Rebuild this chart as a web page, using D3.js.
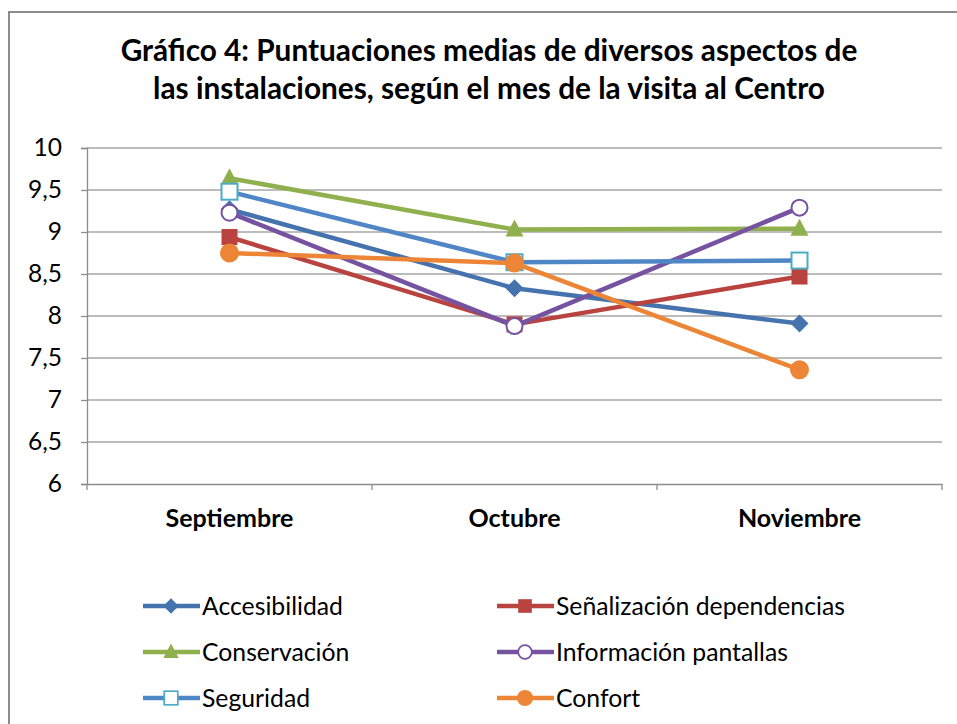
<!DOCTYPE html>
<html>
<head>
<meta charset="utf-8">
<script src="https://cdn.jsdelivr.net/npm/d3@7"></script>
<style>
  body { margin: 0; background: #fff; }
  svg { display: block; font-family: Lato, "Open Sans", sans-serif; }
</style>
</head>
<body>
<script>
  const months = ['Septiembre', 'Octubre', 'Noviembre'];
  const yTicks = [6, 6.5, 7, 7.5, 8, 8.5, 9, 9.5, 10];

  const accesibilidad = [9.27, 8.33, 7.91];
  const senalizacion = [8.94, 7.9, 8.47];
  const conservacion = [9.64, 9.03, 9.04];
  const informacion = [9.23, 7.88, 9.29];
  const seguridad = [9.48, 8.64, 8.66];
  const confort = [8.75, 8.63, 7.36];

  const series = [
    { name: 'Accesibilidad', values: accesibilidad, color: '#4473ad', marker: 'diamond' },
    { name: 'Señalización dependencias', values: senalizacion, color: '#b8433f', marker: 'square' },
    { name: 'Conservación', values: conservacion, color: '#8fb04d', marker: 'triangle' },
    { name: 'Información pantallas', values: informacion, color: '#7653a0', marker: 'circleOpen' },
    { name: 'Seguridad', values: seguridad, color: '#4f86c6', marker: 'squareOpen' },
    { name: 'Confort', values: confort, color: '#ec8535', marker: 'circle' }
  ];

  const width = 957;
  const height = 724;
  const margin = { top: 148, right: 15, bottom: 240, left: 87 };

  const svg = d3.select('body')
    .append('svg')
    .attr('width', width)
    .attr('height', height);

  // size a font so a sample string gets the width seen in the reference
  const fitSize = (sample, weight, target) => {
    const t = svg.append('text').attr('font-size', 20).attr('font-weight', weight).text(sample);
    const w = t.node().getComputedTextLength();
    t.remove();
    return 20 * target / w;
  };
  const yTickSize = fitSize('9,5', 'normal', 34);
  const xTickSize = fitSize('Septiembre', 'bold', 128);
  const legendSize = fitSize('Accesibilidad', 'normal', 141);

  // chart frame (right and bottom edges fall outside the picture)
  svg.append('path')
    .attr('d', `M9,${height + 2}V12H${width + 2}`)
    .attr('fill', 'none')
    .attr('stroke', '#8c8c8c')
    .attr('stroke-width', 2);

  const title = svg.append('text')
    .attr('text-anchor', 'middle')
    .attr('font-weight', 'bold')
    .attr('fill', '#000');
  title.append('tspan').attr('x', 489).attr('y', 61)
    .text('Gráfico 4: Puntuaciones medias de diversos aspectos de');
  title.append('tspan').attr('x', 489).attr('y', 99)
    .text('las instalaciones, según el mes de la visita al Centro');
  title.attr('font-size', fitSize('Gráfico 4: Puntuaciones medias de diversos aspectos de', 'bold', 737));

  const x = d3.scaleBand()
    .domain(months)
    .range([margin.left, width - margin.right]);

  const y = d3.scaleLinear()
    .domain([6, 10])
    .range([height - margin.bottom, margin.top]);

  const fmt = (d) => String(d).replace('.', ',');

  // gridlines
  svg.append('g')
    .selectAll('line')
    .data(yTicks.filter((d) => d !== 6))
    .join('line')
    .attr('x1', margin.left)
    .attr('x2', width - margin.right)
    .attr('y1', (d) => y(d))
    .attr('y2', (d) => y(d))
    .attr('stroke', '#a6a6a6')
    .attr('stroke-width', 1.3);

  const yAxis = svg.append('g')
    .attr('transform', `translate(${margin.left}, 0)`)
    .call(d3.axisLeft(y).tickValues(yTicks).tickFormat(fmt).tickSize(6).tickPadding(19));

  const xAxis = svg.append('g')
    .attr('transform', `translate(0, ${height - margin.bottom})`)
    .call(d3.axisBottom(x).tickSize(0).tickPadding(25));

  // category separators on the x axis
  xAxis.append('g')
    .selectAll('line')
    .data([margin.left, ...months.map((m) => x(m) + x.bandwidth())])
    .join('line')
    .attr('x1', (d) => d)
    .attr('x2', (d) => d)
    .attr('y1', 0)
    .attr('y2', 6)
    .attr('stroke', '#8c8c8c')
    .attr('stroke-width', 1.3);

  [yAxis, xAxis].forEach((g) => {
    g.select('.domain').attr('stroke', '#8c8c8c').attr('stroke-width', 1.3);
    g.selectAll('.tick line').attr('stroke', '#8c8c8c').attr('stroke-width', 1.3);
    g.selectAll('.tick text').attr('fill', '#000').attr('font-family', 'Lato, sans-serif');
  });
  yAxis.selectAll('.tick text').attr('font-size', yTickSize);
  xAxis.selectAll('.tick text').attr('font-size', xTickSize).attr('font-weight', 'bold');

  const drawMarker = (g, type, color) => {
    if (type === 'diamond') {
      g.append('path').attr('d', 'M0,-9L9,0L0,9L-9,0Z').attr('fill', color);
    } else if (type === 'square') {
      g.append('rect').attr('x', -8).attr('y', -8).attr('width', 16).attr('height', 16).attr('fill', color);
    } else if (type === 'triangle') {
      g.append('path').attr('d', 'M0,-10L9,7L-9,7Z').attr('fill', color);
    } else if (type === 'circleOpen') {
      g.append('circle').attr('r', 8).attr('fill', '#fff').attr('stroke', color).attr('stroke-width', 2);
    } else if (type === 'squareOpen') {
      g.append('rect').attr('x', -8).attr('y', -8).attr('width', 16).attr('height', 16)
        .attr('fill', '#fff').attr('stroke', '#4bacc6').attr('stroke-width', 2);
    } else {
      g.append('circle').attr('r', 9.5).attr('fill', color);
    }
  };

  const line = d3.line()
    .x((d, i) => x(months[i]) + x.bandwidth() / 2)
    .y((d) => y(d));

  series.forEach((s) => {
    const g = svg.append('g');
    g.append('path')
      .attr('d', line(s.values))
      .attr('fill', 'none')
      .attr('stroke', s.color)
      .attr('stroke-width', 4.5)
      .attr('stroke-linejoin', 'round');
    s.values.forEach((v, i) => {
      const m = g.append('g')
        .attr('transform', `translate(${x(months[i]) + x.bandwidth() / 2}, ${y(v)})`);
      drawMarker(m, s.marker, s.color);
    });
  });

  // legend
  const legend = svg.append('g');
  series.forEach((s, i) => {
    const lx = i % 2 === 0 ? 143 : 497;
    const ly = 606 + Math.floor(i / 2) * 46;
    const item = legend.append('g').attr('transform', `translate(${lx}, ${ly})`);
    item.append('line')
      .attr('x1', 0).attr('x2', 57)
      .attr('stroke', s.color).attr('stroke-width', 4.5);
    const m = item.append('g').attr('transform', 'translate(28, 0) scale(0.85)');
    drawMarker(m, s.marker, s.color);
    item.append('text')
      .attr('x', 59)
      .attr('dy', '0.35em')
      .attr('font-size', legendSize)
      .attr('fill', '#000')
      .text(s.name);
  });
</script>
</body>
</html>
